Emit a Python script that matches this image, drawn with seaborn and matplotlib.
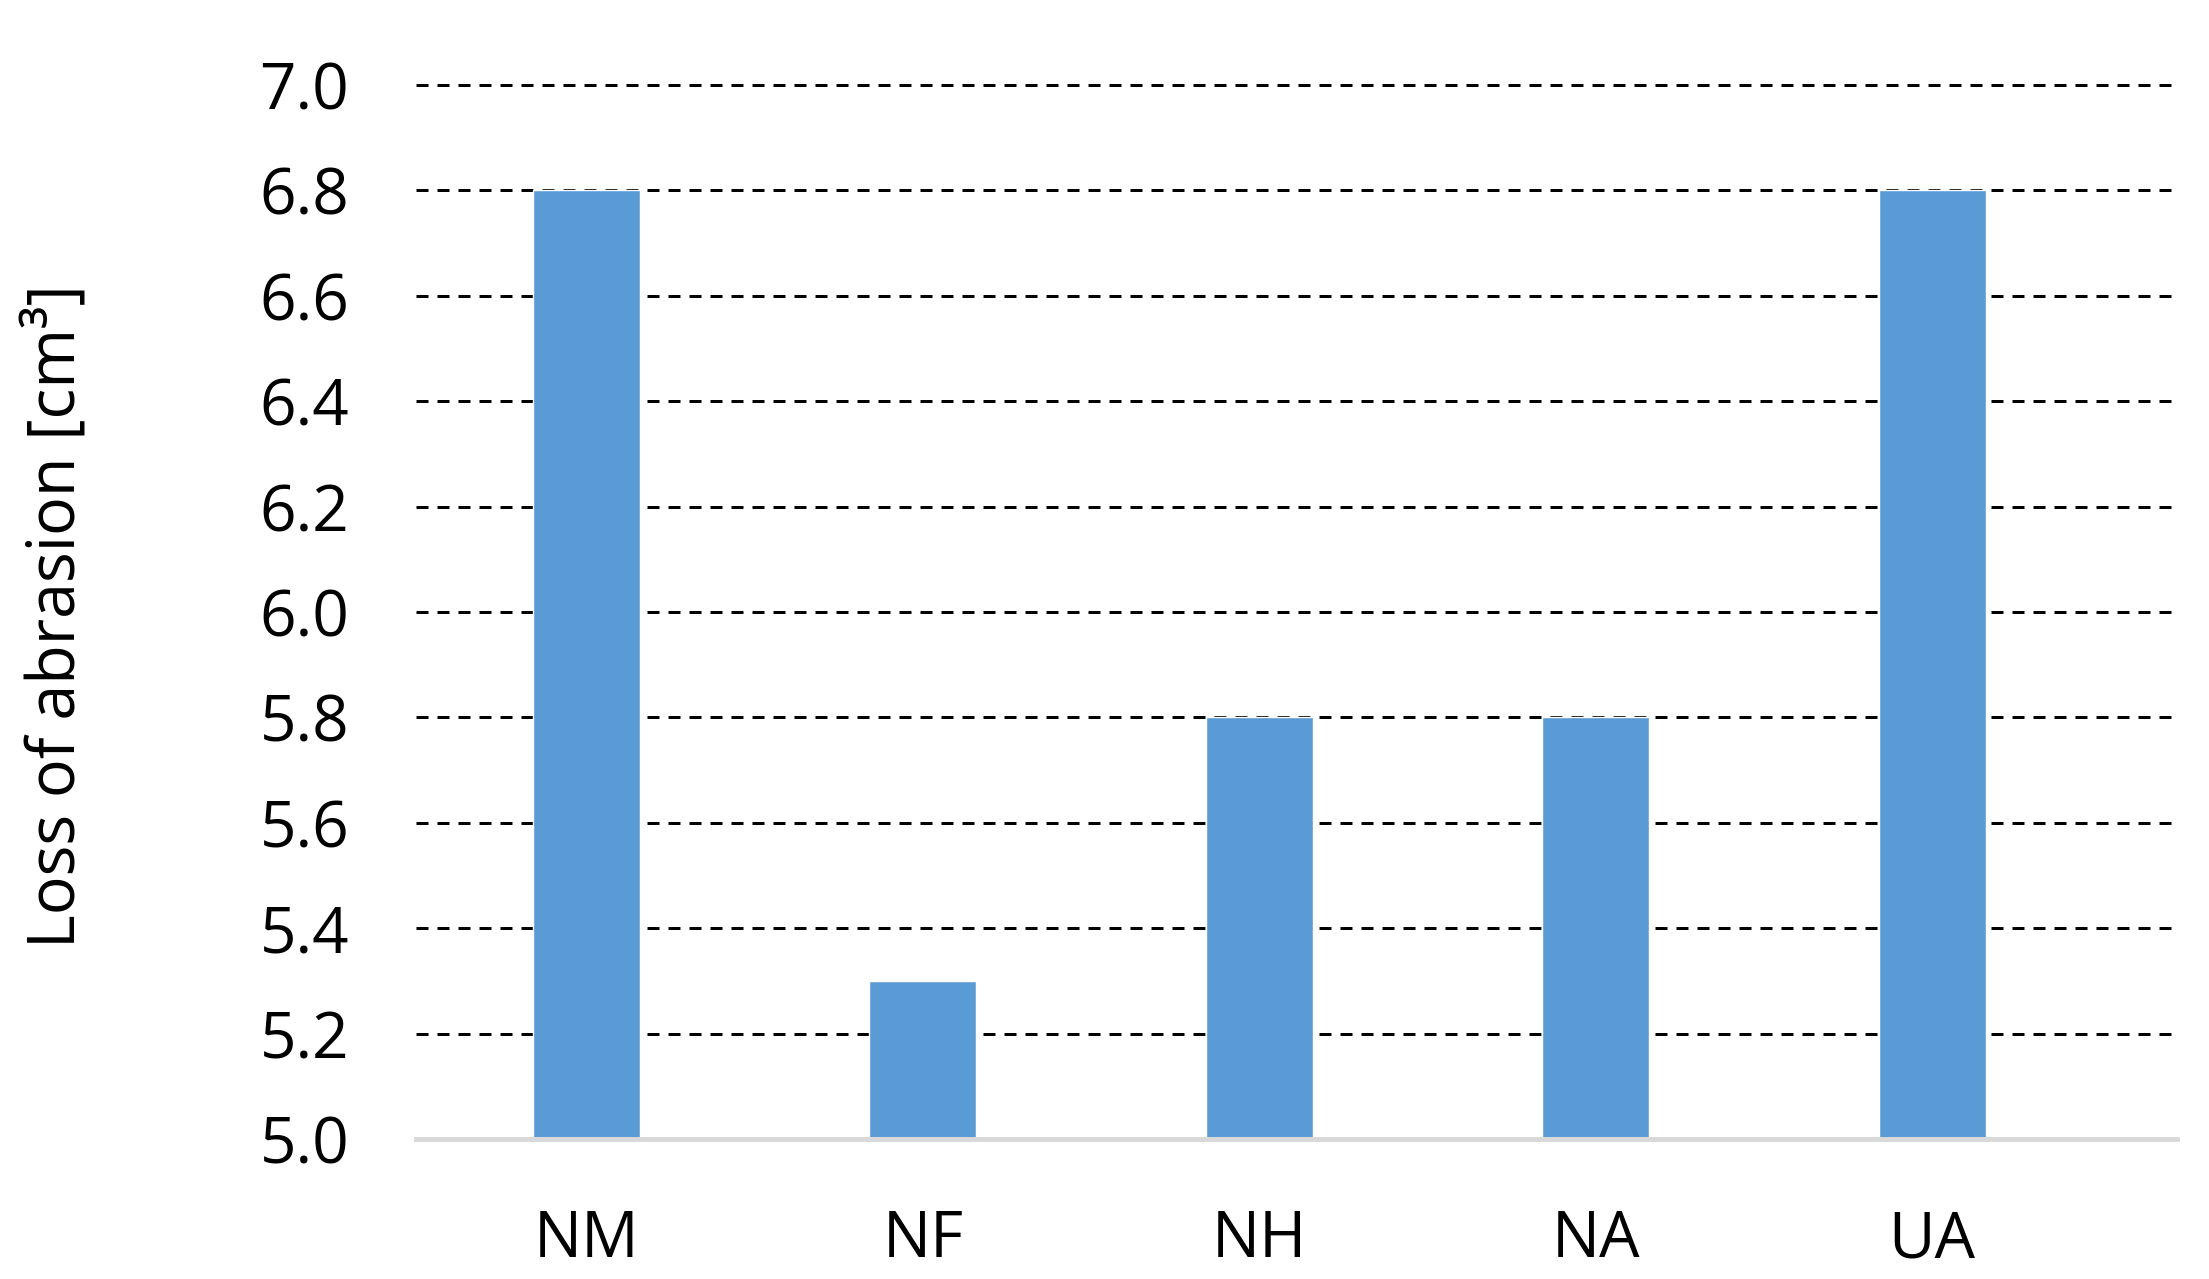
import pandas as pd
import matplotlib
matplotlib.use('Agg')
import matplotlib.pyplot as plt
import seaborn as sns

# values
categories = ['NM', 'NF', 'NH', 'NA', 'UA']
loss_values = [6.8, 5.3, 5.8, 5.8, 6.8]
y_ticks = [5.0, 5.2, 5.4, 5.6, 5.8, 6.0, 6.2, 6.4, 6.6, 6.8, 7.0]

sns.set_theme(style="white")
plt.rcParams['font.family'] = ['Open Sans', 'DejaVu Sans']

df = pd.DataFrame({'sample': categories, 'loss': loss_values})

fig = plt.figure(figsize=(22.09, 12.79), dpi=100)
ax = fig.add_axes([0.1883, 0.1095, 0.7972, 0.824])

sns.barplot(data=df, x='sample', y='loss', color='#5B9BD5', width=0.318,
            saturation=1, errorbar=None, ax=ax, zorder=2)

ax.set_ylim(5.0, 7.0)
ax.set_xlim(-0.507, 4.728)
ax.set_yticks(y_ticks)
ax.set_yticklabels([f'{v:.1f}' for v in y_ticks])

# dashed black gridlines behind the bars
ax.set_axisbelow(True)
ax.yaxis.grid(True, color='black', linewidth=2.16, linestyle=(0, (4, 3)))
for gl in ax.yaxis.get_gridlines():
    gl.set_clip_on(False)

for side in ['top', 'left', 'right']:
    ax.spines[side].set_visible(False)
ax.spines['bottom'].set_color('#D9D9D9')
ax.spines['bottom'].set_linewidth(3.6)
ax.spines['bottom'].set_zorder(3)

ax.tick_params(axis='y', length=0, pad=48, labelsize=46, labelcolor='black')
ax.tick_params(axis='x', length=0, pad=50, labelsize=46, labelcolor='black')
ax.set_xlabel('')
ax.set_ylabel('')

fig.text(58 / 2209, 1 - 616 / 1279, 'Loss of abrasion [cm³]', rotation=90,
         ha='center', va='center', fontsize=46.5, color='black')

fig.savefig('out.png', dpi=100, facecolor='white')
